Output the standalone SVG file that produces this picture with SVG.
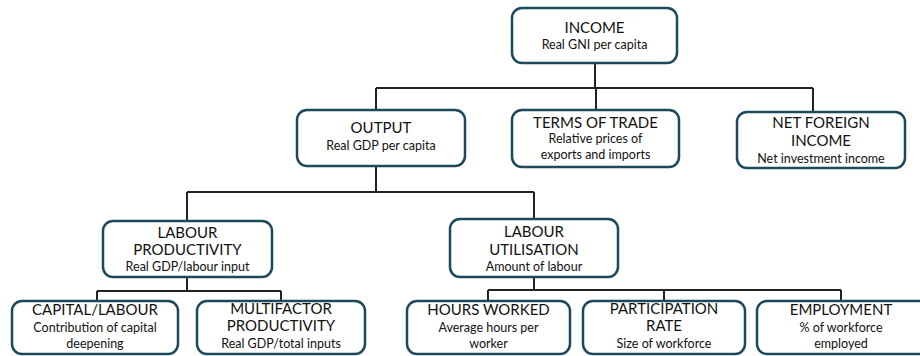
<svg xmlns="http://www.w3.org/2000/svg" width="920" height="356" viewBox="0 0 920 356">
<style>
.box{fill:#fff;stroke:#1c4a5c;stroke-width:2.5}
.t{font-family:Lato,"Noto Sans",sans-serif;font-size:15px;fill:#111;text-anchor:middle}
.s{font-family:Lato,"Noto Sans",sans-serif;font-size:12.5px;fill:#111;text-anchor:middle}
.c{fill:none;stroke:#222;stroke-width:2}
</style>
<rect width="920" height="356" fill="#fff"/>
<g id="connectors">
<path class="c" d="M595 63V88M376 88H813M376 88V110M596 88V110M813 88V112"/>
<path class="c" d="M376 166V192M187 192H534M187 192V221M534 192V219"/>
<path class="c" d="M187 277V291M97 291H281M97 291V301M281 291V301"/>
<path class="c" d="M534 277V290M488 290H841M488 290V301M664 290V301M841 290V301"/>
</g>
<g id="income"><rect class="box" x="512" y="8" width="165" height="55" rx="10"/><text class="t" x="594.5" y="33">INCOME</text><text class="s" x="594.5" y="49">Real GNI per capita</text></g>
<g id="output"><rect class="box" x="297" y="110" width="168" height="56" rx="10"/><text class="t" x="381" y="133">OUTPUT</text><text class="s" x="381" y="150">Real GDP per capita</text></g>
<g id="terms"><rect class="box" x="512" y="110" width="167" height="57" rx="10"/><text class="t" x="595.5" y="128">TERMS OF TRADE</text><text class="s" x="595.5" y="143">Relative prices of</text><text class="s" x="595.5" y="159">exports and imports</text></g>
<g id="nfi"><rect class="box" x="737" y="112" width="168" height="56" rx="10"/><text class="t" x="821" y="128">NET FOREIGN</text><text class="t" x="821" y="146">INCOME</text><text class="s" x="821" y="163">Net investment income</text></g>
<g id="lp"><rect class="box" x="103" y="221" width="169" height="56" rx="10"/><text class="t" x="187.5" y="238">LABOUR</text><text class="t" x="187.5" y="255">PRODUCTIVITY</text><text class="s" x="187.5" y="271">Real GDP/labour input</text></g>
<g id="lu"><rect class="box" x="450" y="219" width="168" height="58" rx="10"/><text class="t" x="534" y="237">LABOUR</text><text class="t" x="534" y="255">UTILISATION</text><text class="s" x="534" y="271">Amount of labour</text></g>
<g id="cl"><rect class="box" x="12" y="301" width="166" height="53" rx="10"/><text class="t" x="95" y="315">CAPITAL/LABOUR</text><text class="s" x="95" y="332">Contribution of capital</text><text class="s" x="95" y="348">deepening</text></g>
<g id="mfp"><rect class="box" x="197" y="301" width="168" height="53" rx="10"/><text class="t" x="281" y="314">MULTIFACTOR</text><text class="t" x="281" y="331">PRODUCTIVITY</text><text class="s" x="281" y="348">Real GDP/total inputs</text></g>
<g id="hw"><rect class="box" x="407" y="301" width="163" height="53" rx="10"/><text class="t" x="488.5" y="315">HOURS WORKED</text><text class="s" x="488.5" y="332">Average hours per</text><text class="s" x="488.5" y="348">worker</text></g>
<g id="pr"><rect class="box" x="583" y="301" width="162" height="53" rx="10"/><text class="t" x="664" y="314">PARTICIPATION</text><text class="t" x="664" y="331">RATE</text><text class="s" x="664" y="348">Size of workforce</text></g>
<g id="emp"><rect class="box" x="757" y="301" width="175" height="53" rx="10"/><text class="t" x="841" y="315">EMPLOYMENT</text><text class="s" x="841" y="332">% of workforce</text><text class="s" x="841" y="348">employed</text></g>
</svg>
